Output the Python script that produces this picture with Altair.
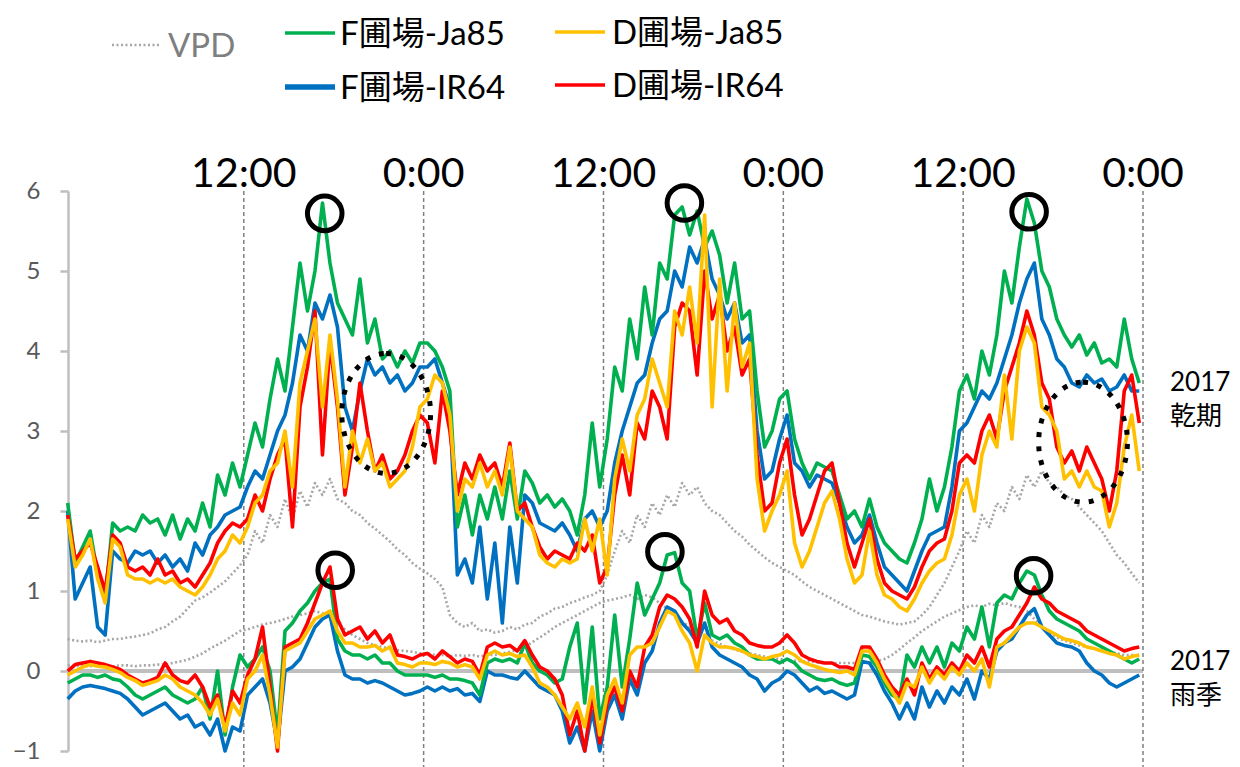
import altair as alt
import pandas as pd

# Half-hourly readings over three days (hours since 00:00 of day 1)
hours = [0.25 + 0.5 * i for i in range(144)]

# ---- 2017 dry season ----
dry_f_ja85 = [
    2.1, 1.35, 1.55, 1.75, 1.2, 0.9, 1.85, 1.75, 1.8, 1.75, 1.95, 1.85, 1.9, 1.7, 1.95, 1.65, 1.9, 1.75, 2.1, 1.8, 2.45, 2.2, 2.6, 2.3,
    2.7, 3.1, 2.8, 3.4, 3.9, 3.5, 4.3, 5.1, 4.5, 5.0, 5.85, 5.1, 4.6, 4.4, 4.2, 4.9, 4.1, 4.4, 3.9, 4.0, 3.8, 4.0, 3.85, 4.1,
    4.1, 4.0, 3.8, 3.5, 1.8, 2.2, 1.7, 2.2, 1.9, 2.3, 1.9, 2.5, 1.9, 2.5, 2.35, 2.1, 2.2, 2.05, 2.15, 2.0, 1.7, 2.2, 3.1, 2.3,
    2.9, 3.8, 3.5, 4.4, 3.9, 4.8, 4.2, 5.1, 4.9, 5.7, 5.8, 5.45, 5.75, 5.3, 5.5, 5.2, 4.6, 5.1, 4.4, 4.5, 3.5, 2.8, 3.0, 3.4,
    3.5, 2.9, 2.6, 2.4, 2.6, 2.55, 2.5, 2.2, 1.9, 2.0, 1.8, 2.15, 1.8, 1.6, 1.5, 1.4, 1.35, 1.6, 1.9, 2.4, 2.0, 2.3, 2.8, 3.5,
    3.7, 3.4, 4.0, 3.7, 4.2, 5.0, 4.6, 5.3, 5.9, 5.6, 5.0, 4.8, 4.4, 4.2, 4.05, 4.2, 3.95, 4.1, 3.85, 3.9, 3.8, 4.4, 3.9, 3.6,
]
dry_f_ir64 = [
    2.0, 0.9, 1.1, 1.3, 0.55, 0.45, 1.5, 1.4, 1.35, 1.5, 1.45, 1.5, 1.35, 1.45, 1.3, 1.4, 1.25, 1.6, 1.45, 1.7, 1.8, 1.95, 2.0, 2.05,
    2.3, 2.5, 2.4, 2.7, 3.0, 3.2, 3.6, 4.2, 4.0, 4.6, 4.4, 4.7, 4.3, 3.3, 3.0, 3.5, 3.9, 3.7, 3.8, 3.6, 3.7, 3.5, 3.6, 3.8,
    3.8, 3.9, 3.6, 3.3, 1.2, 1.4, 1.1, 1.8, 0.9, 1.6, 0.6, 1.8, 1.1, 2.2, 2.1, 1.85, 1.8, 1.75, 1.85, 1.7, 1.5, 1.9, 2.0, 1.8,
    2.0, 2.6, 3.0, 3.3, 3.6, 3.7, 4.1, 4.4, 4.5, 5.0, 4.8, 5.3, 5.1, 5.4, 4.9, 4.7, 4.4, 4.6, 4.1, 4.2, 3.0, 2.4, 2.5, 2.9,
    3.2, 2.6, 2.5, 2.3, 2.45, 2.4, 2.35, 2.1, 1.8, 1.6, 1.7, 1.95, 1.6, 1.3, 1.2, 1.1, 1.0, 1.25, 1.5, 1.7, 1.75, 1.8, 2.3, 3.0,
    3.1, 3.3, 3.5, 3.4, 3.6, 3.9, 4.2, 4.6, 4.9, 5.1, 4.4, 4.2, 3.9, 3.8, 3.6, 3.55, 3.7, 3.6, 3.65, 3.5, 3.55, 3.7, 3.5, 3.5,
]
dry_d_ir64 = [
    1.95, 1.4, 1.5, 1.6, 1.3, 1.0, 1.7, 1.6, 1.3, 1.25, 1.3, 1.2, 1.4, 1.2, 1.25, 1.1, 1.15, 1.05, 1.2, 1.35, 1.6, 1.75, 1.85, 1.8,
    1.9, 2.2, 2.0, 2.4, 2.7, 2.9, 1.8, 3.3, 3.8, 4.5, 2.7, 4.1, 3.3, 2.2, 2.8, 3.6, 3.0, 2.5, 2.7, 2.4, 2.5, 2.7, 3.0, 3.2,
    3.1, 2.6, 3.5, 3.0, 2.2, 2.6, 2.4, 2.7, 2.5, 2.6, 2.3, 2.85, 2.0, 2.1, 1.8, 1.55, 1.4, 1.5, 1.45, 1.4, 1.6, 1.5, 1.7, 1.1,
    1.3, 2.2, 2.7, 2.2, 3.1, 2.9, 3.5, 3.3, 2.9, 4.3, 4.6, 4.5, 3.7, 5.0, 4.4, 4.7, 4.0, 4.3, 3.7, 3.9, 2.7, 2.0, 2.1, 2.6,
    2.9, 2.2, 1.7, 1.9, 2.2, 2.5, 2.6, 2.1, 1.6, 1.3, 1.6, 1.9, 1.4, 1.1, 1.0, 0.95, 0.9, 1.05, 1.3, 1.5, 1.6, 1.65, 2.0, 2.6,
    2.7, 2.6, 3.0, 3.2, 2.9, 3.5, 3.8, 4.1, 4.5, 4.2, 3.6, 3.4, 2.8, 2.6, 2.75, 2.5, 2.8, 2.6, 2.4, 2.0, 2.5, 3.5, 3.7, 3.1,
]
dry_d_ja85 = [
    1.9, 1.3, 1.45, 1.65, 1.15, 0.85, 1.65, 1.55, 1.2, 1.15, 1.15, 1.1, 1.15, 1.1, 1.15, 1.05, 1.0, 0.95, 1.05, 1.2, 1.4, 1.5, 1.7, 1.6,
    1.8, 2.1, 2.2, 2.5, 2.6, 3.0, 2.3, 3.6, 4.0, 4.4, 3.3, 4.2, 3.4, 2.3, 3.0, 2.6, 2.9, 2.5, 2.6, 2.3, 2.4, 2.5, 2.8, 3.3,
    3.4, 3.7, 3.6, 3.2, 2.0, 2.4, 2.3, 2.6, 2.3, 2.5, 2.2, 2.8, 2.0, 1.9, 1.8, 1.45, 1.35, 1.3, 1.4, 1.35, 1.4, 1.9, 1.5, 1.9,
    1.2, 2.4, 2.9, 2.5, 3.2, 3.4, 3.9, 3.6, 3.3, 4.5, 4.2, 4.8, 4.1, 5.7, 3.3, 4.9, 3.5, 4.6, 3.8, 4.1, 2.4, 1.75, 2.0, 2.2,
    2.5, 1.6, 1.3, 1.5, 1.8, 2.1, 2.25, 1.9, 1.4, 1.1, 1.2, 1.75, 1.2, 0.95, 0.9, 0.8, 0.75, 0.9, 1.1, 1.25, 1.35, 1.4, 1.7, 2.2,
    2.4, 2.0, 2.7, 3.0, 2.8, 3.7, 2.9, 4.0, 4.3, 4.1, 3.3, 3.2, 3.0, 2.4, 2.5, 2.3, 2.5, 2.3, 2.25, 1.8, 2.1, 2.8, 3.2, 2.5,
]
vpd_dry = [
    0.40, 0.38, 0.37, 0.38, 0.36, 0.38, 0.40, 0.40, 0.42, 0.43, 0.45, 0.47, 0.52, 0.55, 0.62, 0.68, 0.78, 0.88, 0.92, 0.98, 1.05, 1.12, 1.22, 1.32,
    1.45, 1.75, 1.6, 1.95, 1.8, 2.15, 1.9, 2.25, 2.05, 2.35, 2.2, 2.4, 2.15, 2.1, 2.0, 1.95, 1.85, 1.78, 1.7, 1.62, 1.52, 1.45, 1.35, 1.28,
    1.22, 1.15, 1.05, 0.7, 0.6, 0.55, 0.6, 0.5, 0.52, 0.48, 0.5, 0.55, 0.52, 0.58, 0.6, 0.68, 0.72, 0.78, 0.8, 0.85, 0.88, 0.92, 0.95, 1.0,
    1.2, 1.5, 1.75, 1.6, 1.95, 1.8, 2.1, 1.95, 2.2, 2.05, 2.35, 2.2, 2.3, 2.1, 2.0, 1.95, 1.85, 1.75, 1.68, 1.58, 1.5, 1.42, 1.35, 1.3,
    1.25, 1.2, 1.12, 1.05, 1.0, 0.95, 0.9, 0.85, 0.8, 0.75, 0.7, 0.68, 0.65, 0.62, 0.6, 0.58, 0.6, 0.62, 0.7, 0.8, 0.95, 1.1, 1.3, 1.5,
    1.75, 1.6, 1.95, 1.8, 2.1, 2.0, 2.3, 2.15, 2.45, 2.3, 2.5, 2.35, 2.3, 2.2, 2.15, 2.05, 1.95, 1.85, 1.75, 1.6, 1.45, 1.35, 1.22, 1.1,
]

# ---- 2017 rainy season ----
wet_f_ja85 = [
    -0.15, -0.1, -0.05, -0.05, -0.08, -0.05, -0.1, -0.12, -0.2, -0.3, -0.35, -0.3, -0.25, -0.2, -0.3, -0.35, -0.4, -0.35, -0.2, -0.6, 0.0, -0.8, -0.2, 0.2,
    0.05, 0.15, 0.3, 0.0, -0.8, 0.5, 0.6, 0.75, 0.85, 1.0, 1.1, 1.15, 0.4, 0.25, 0.2, 0.2, 0.15, 0.2, 0.1, 0.1, 0.0, -0.05, -0.05, -0.05,
    -0.05, -0.08, -0.05, -0.1, -0.1, -0.12, -0.15, -0.3, 0.1, 0.15, 0.12, 0.15, 0.1, 0.35, 0.1, 0.0, -0.05, -0.15, -0.1, 0.3, 0.6, -0.4, 0.55, -0.6,
    -0.2, 0.7, -0.2, 0.4, 1.1, 0.7, 0.9, 1.1, 1.45, 1.48, 1.1, 1.0, 0.4, 0.85, 0.45, 0.4, 0.45, 0.35, 0.3, 0.2, 0.15, 0.15, 0.15, 0.1,
    0.15, 0.1, 0.0, -0.05, -0.1, -0.12, -0.1, -0.15, -0.18, -0.15, 0.2, 0.18, 0.05, -0.15, -0.3, -0.35, 0.2, 0.05, 0.3, 0.1, 0.3, 0.05, 0.35, 0.25,
    0.55, 0.4, 0.8, 0.3, 0.85, 0.95, 0.9, 1.1, 1.25, 1.2, 0.95, 0.75, 0.65, 0.6, 0.55, 0.5, 0.4, 0.35, 0.3, 0.25, 0.2, 0.15, 0.1, 0.15,
]
wet_f_ir64 = [
    -0.35, -0.25, -0.2, -0.18, -0.2, -0.22, -0.25, -0.28, -0.35, -0.45, -0.55, -0.5, -0.45, -0.4, -0.5, -0.6, -0.55, -0.7, -0.65, -0.8, -0.6, -1.0, -0.7, -0.75,
    -0.3, -0.2, -0.1, -0.4, -0.9, 0.0, 0.05, 0.15, 0.35, 0.55, 0.65, 0.7, 0.25, -0.05, -0.1, -0.1, -0.15, -0.12, -0.15, -0.2, -0.25, -0.3, -0.28, -0.25,
    -0.2, -0.25, -0.2, -0.25, -0.22, -0.3, -0.28, -0.38, 0.0, -0.05, -0.05, -0.08, -0.1, 0.0, -0.1, -0.2, -0.25, -0.3, -0.5, -0.9, -0.7, -1.0, -0.5, -1.0,
    -0.5, -0.3, -0.6, -0.1, -0.3, 0.1, 0.25, 0.6, 0.8, 0.75, 0.6, 0.5, 0.35, 0.6, 0.3, 0.2, 0.15, 0.1, 0.05, -0.05, -0.1, -0.25, -0.15, -0.1,
    0.0, -0.05, -0.15, -0.25, -0.2, -0.28, -0.25, -0.3, -0.35, -0.3, 0.12, 0.1, -0.05, -0.25, -0.4, -0.6, -0.4, -0.6, -0.2, -0.45, -0.25, -0.4, -0.2, -0.3,
    -0.1, -0.35, 0.0, -0.1, 0.25, 0.35, 0.4, 0.55, 0.7, 0.78, 0.55, 0.45, 0.35, 0.32, 0.3, 0.25, 0.1, 0.0, -0.05, -0.15, -0.2, -0.15, -0.1, -0.05,
]
wet_d_ir64 = [
    0.0, 0.08, 0.1, 0.12, 0.1, 0.08, 0.05, 0.02, -0.05, -0.1, -0.15, -0.12, -0.08, 0.1, -0.05, -0.12, -0.15, -0.05, -0.2, -0.45, -0.3, -0.7, -0.25, -0.4,
    -0.05, 0.15, 0.55, -0.2, -1.0, 0.3, 0.35, 0.4, 0.6, 0.85, 1.1, 1.3, 0.65, 0.45, 0.5, 0.55, 0.4, 0.5, 0.35, 0.45, 0.2, 0.18, 0.15, 0.2,
    0.22, 0.15, 0.25, 0.18, 0.1, 0.15, 0.12, -0.05, 0.3, 0.35, 0.3, 0.32, 0.25, 0.38, 0.2, 0.05, 0.0, -0.1, -0.3, -0.8, -0.5, -1.0, -0.3, -0.9,
    -0.4, -0.2, -0.5, 0.0, -0.2, 0.3, 0.45, 0.8, 0.95, 0.9, 0.8, 0.65, 0.3, 1.0, 0.7, 0.6, 0.65, 0.5, 0.45, 0.35, 0.32, 0.3, 0.3, 0.35,
    0.45, 0.35, 0.2, 0.15, 0.12, 0.1, 0.1, 0.05, 0.05, 0.02, 0.3, 0.3, 0.15, -0.05, -0.2, -0.3, -0.1, -0.3, 0.1, -0.1, 0.05, -0.05, 0.1, 0.0,
    0.2, 0.1, 0.3, 0.05, 0.4, 0.5, 0.55, 0.7, 0.85, 1.05, 0.9, 0.85, 0.75, 0.7, 0.65, 0.6, 0.5, 0.45, 0.4, 0.35, 0.3, 0.25, 0.28, 0.3,
]
wet_d_ja85 = [
    -0.05, 0.0, 0.05, 0.08, 0.06, 0.05, 0.02, -0.02, -0.08, -0.12, -0.18, -0.15, -0.12, -0.05, -0.1, -0.2, -0.25, -0.3, -0.4, -0.55, -0.35, -0.75, -0.4, -0.55,
    -0.1, 0.0, 0.2, -0.3, -0.95, 0.25, 0.3, 0.35, 0.5, 0.65, 0.7, 0.75, 0.5, 0.35, 0.35, 0.3, 0.3, 0.32, 0.25, 0.3, 0.1, 0.08, 0.05, 0.1,
    0.1, 0.08, 0.12, 0.1, 0.05, 0.08, 0.05, -0.1, 0.2, 0.25, 0.2, 0.22, 0.18, 0.2, 0.05, -0.15, -0.2, -0.3, -0.45, -0.6, -0.4, -0.7, -0.2, -0.8,
    -0.3, -0.1, -0.4, 0.2, 0.3, 0.3, 0.35, 0.55, 0.75, 0.7, 0.5, 0.35, 0.0, 0.45, 0.35, 0.3, 0.3, 0.28, 0.25, 0.2, 0.18, 0.15, 0.18, 0.2,
    0.25, 0.2, 0.12, 0.08, 0.05, 0.02, 0.0, -0.02, 0.0, -0.05, 0.25, 0.25, 0.1, -0.1, -0.25, -0.4, -0.15, -0.2, 0.05, -0.15, 0.0, -0.1, 0.05, -0.05,
    0.1, 0.0, 0.15, -0.2, 0.3, 0.35, 0.45, 0.55, 0.6, 0.6, 0.55, 0.5, 0.45, 0.4, 0.38, 0.35, 0.3, 0.28, 0.25, 0.22, 0.2, 0.15, 0.18, 0.2,
]
vpd_wet = [
    0.07, 0.06, 0.07, 0.06, 0.07, 0.06, 0.06, 0.07, 0.07, 0.06, 0.07, 0.07, 0.08, 0.08, 0.1, 0.12, 0.14, 0.18, 0.22, 0.28, 0.33, 0.38, 0.44, 0.5,
    0.52, 0.55, 0.58, 0.6, 0.62, 0.65, 0.68, 0.7, 0.72, 0.75, 0.72, 0.68, 0.6, 0.52, 0.45, 0.4, 0.35, 0.32, 0.3, 0.28, 0.26, 0.25, 0.24, 0.22,
    0.22, 0.2, 0.2, 0.18, 0.2, 0.19, 0.2, 0.18, 0.2, 0.2, 0.22, 0.24, 0.26, 0.3, 0.36, 0.42, 0.48, 0.55, 0.6, 0.65, 0.7, 0.75, 0.8, 0.85,
    0.88, 0.9, 0.92, 0.95, 0.9, 0.95, 0.92, 0.85, 0.78, 0.7, 0.62, 0.55, 0.48, 0.42, 0.38, 0.34, 0.3, 0.27, 0.24, 0.22, 0.2, 0.18, 0.16, 0.15,
    0.14, 0.13, 0.12, 0.12, 0.11, 0.1, 0.1, 0.1, 0.1, 0.1, 0.1, 0.11, 0.12, 0.15, 0.2, 0.27, 0.35, 0.42, 0.5, 0.56, 0.62, 0.68, 0.72, 0.76,
    0.8, 0.82, 0.8, 0.84, 0.82, 0.85, 0.82, 0.8, 0.75, 0.65, 0.55, 0.48, 0.42, 0.38, 0.35, 0.32, 0.3, 0.28, 0.26, 0.24, 0.22, 0.2, 0.2, 0.19,
]

# Time-of-day markers along the top
marker_hours = [12, 24, 36, 48, 60, 72]
marker_labels = ["12:00", "0:00", "12:00", "0:00", "12:00", "0:00"]

# Highlighted peaks (solid circles) and night-time divergence (dotted ellipses)
peak_hours = [17.4, 18.1, 41.4, 40.1, 64.4, 64.7]
peak_values = [5.72, 1.26, 5.85, 1.49, 5.74, 1.19]
gap_hours = [21.5, 68.0]
gap_values = [3.22, 2.86]

y_ticks = [-1, 0, 1, 2, 3, 4, 5, 6]

GREEN, BLUE, RED, GOLD, GREY = "#00b050", "#0070c0", "#ff0000", "#ffc000", "#a6a6a6"
LATIN = "Lato"
MIXED = "Lato, 'Noto Sans CJK JP'"

W, H = 1075, 560


def series_frame(dry, wet):
    rows = []
    for season, vals in (("dry", dry), ("wet", wet)):
        rows += [{"hour": h, "value": v, "season": season} for h, v in zip(hours, vals)]
    return pd.DataFrame(rows)


xscale = alt.Scale(domain=[0.27, 72], nice=False, zero=False)
yscale = alt.Scale(domain=[-1, 6], nice=False, zero=False)
X = alt.X("hour:Q", scale=xscale, axis=None)
Y = alt.Y(
    "value:Q",
    scale=yscale,
    axis=alt.Axis(
        values=y_ticks, format="d", title=None, grid=False,
        domainColor="#bfbfbf", domainWidth=2.5,
        tickColor="#bfbfbf", tickWidth=2.5, tickSize=8,
        labelColor="#595959", labelFont=LATIN, labelFontSize=24, labelPadding=20,
    ),
)

one = pd.DataFrame({"k": [0]})

zero_line = alt.Chart(pd.DataFrame({"value": [0]})).mark_rule(
    color="#bfbfbf", strokeWidth=4
).encode(y=Y, x=alt.value(0), x2=alt.value(W))

time_rules = alt.Chart(pd.DataFrame({"hour": marker_hours})).mark_rule(
    color="#808080", strokeWidth=1.5, strokeDash=[4, 3]
).encode(x=X, y=alt.value(0), y2=alt.value(H + 16))

time_text = alt.Chart(
    pd.DataFrame({"hour": marker_hours, "label": marker_labels})
).mark_text(font=LATIN, fontSize=41, color="black", baseline="middle", align="center").encode(
    x=X, y=alt.value(-16), text="label:N"
)


def line_layer(df, color, width=3.6, dash=None):
    kw = dict(color=color, strokeWidth=width, strokeJoin="round")
    if dash:
        kw["strokeDash"] = dash
    return alt.Chart(df).mark_line(**kw).encode(x=X, y=Y, detail="season:N")


vpd = line_layer(series_frame(vpd_dry, vpd_wet), GREY, 2.6, [2, 2.5])
blue = line_layer(series_frame(dry_f_ir64, wet_f_ir64), BLUE)
green = line_layer(series_frame(dry_f_ja85, wet_f_ja85), GREEN)
red = line_layer(series_frame(dry_d_ir64, wet_d_ir64), RED)
gold = line_layer(series_frame(dry_d_ja85, wet_d_ja85), GOLD)

circles = alt.Chart(pd.DataFrame({"hour": peak_hours, "value": peak_values})).mark_point(
    shape="circle", size=1195, filled=False, color="black", strokeWidth=5, opacity=1
).encode(x=X, y=Y)

ELLIPSE = "M0,-1 A0.74,1 0 1,1 0,1 A0.74,1 0 1,1 0,-1 Z"
ellipses = alt.Chart(pd.DataFrame({"hour": gap_hours, "value": gap_values})).mark_point(
    shape=ELLIPSE, size=14400, filled=False, color="black", strokeWidth=5,
    strokeDash=[5, 9], opacity=1
).encode(x=X, y=Y)

# Legend drawn by hand: sample line + label
legend_items = [
    ("VPD", GREY, 44, 92, -146, 100, "#7f7f7f", 2.6, [2, 2.5]),
    ("F圃場-Ja85", GREEN, 217, 267, -158, 272, "black", 3.5, None),
    ("F圃場-IR64", BLUE, 217, 267, -104, 272, "black", 5.5, None),
    ("D圃場-Ja85", GOLD, 487, 537, -159, 544, "black", 3.5, None),
    ("D圃場-IR64", RED, 487, 537, -106, 544, "black", 3.5, None),
]
legend_layers = []
for label, col, x1, x2, ly, tx, tcol, sw, dash in legend_items:
    kw = dict(color=col, strokeWidth=sw)
    if dash:
        kw["strokeDash"] = dash
    legend_layers.append(
        alt.Chart(one).mark_rule(**kw).encode(
            x=alt.value(x1), x2=alt.value(x2), y=alt.value(ly)
        )
    )
    legend_layers.append(
        alt.Chart(one).mark_text(
            font=MIXED, fontSize=33, color=tcol, align="left", baseline="middle"
        ).encode(x=alt.value(tx), y=alt.value(ly + 2), text=alt.value(label))
    )

season_labels = []
for lines, ly in ((["2017", "乾期"], 192), (["2017", "雨季"], 471)):
    season_labels.append(
        alt.Chart(one).mark_text(
            font=MIXED, fontSize=26, color="black", align="left", baseline="middle",
            lineHeight=34,
        ).encode(x=alt.value(1102), y=alt.value(ly), text=alt.value(lines))
    )

chart = alt.layer(
    zero_line, time_rules, vpd, blue, green, red, gold,
    circles, ellipses, time_text, *legend_layers, *season_labels,
).properties(
    width=W, height=H,
    padding={"left": 68, "top": 191, "right": 97, "bottom": 16},
    autosize=alt.AutoSizeParams(type="none"),
    background="white",
).configure_view(stroke=None)

chart.save("out.html", embed_options={"renderer": "svg", "actions": False})
